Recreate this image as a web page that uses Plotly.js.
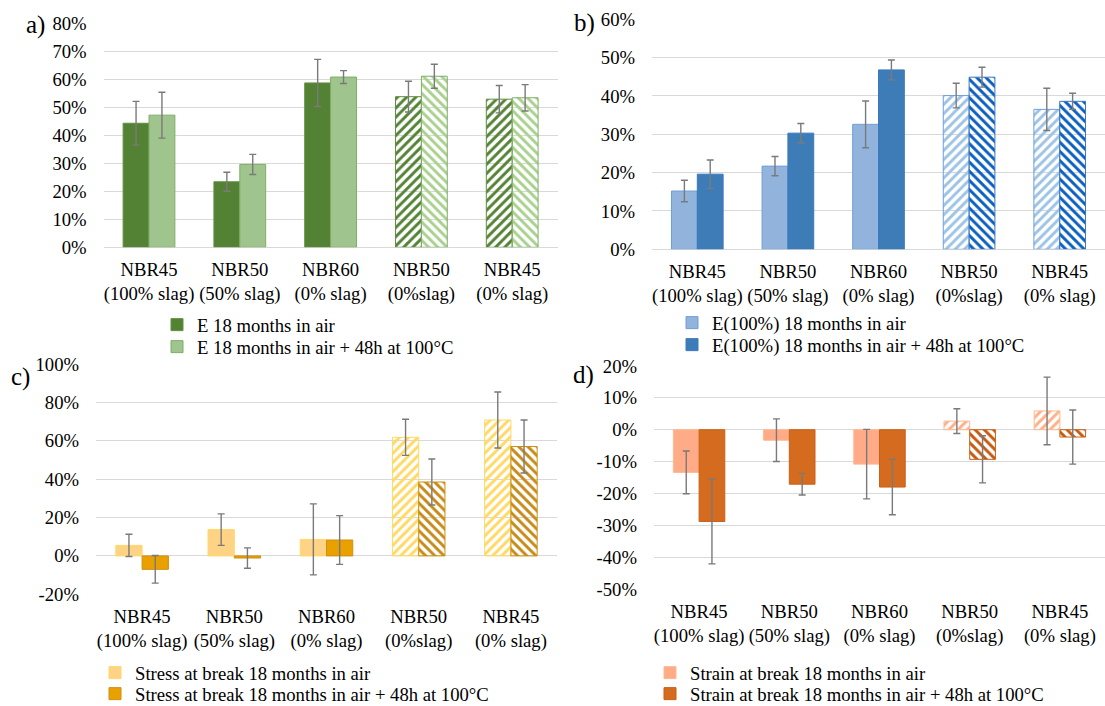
<!DOCTYPE html>
<html>
<head>
<meta charset="utf-8">
<script src="https://cdn.plot.ly/plotly-3.0.1.min.js"></script>
<style>html,body{margin:0;padding:0;background:#fff}#chart{width:1105px;height:706px}</style>
</head>
<body>
<div id="chart"></div>
<script>
// ---------- DATA ----------
const categories = ['NBR45<br>(100% slag)', 'NBR50<br>(50% slag)', 'NBR60<br>(0% slag)', 'NBR50<br>(0%slag)', 'NBR45<br>(0% slag)'];

// a) E
const seriesA1Name = 'E 18 months in air';
const seriesA2Name = 'E 18 months in air + 48h at 100°C';
const aAir = [44.3, 23.4, 58.7, 53.8, 52.9];
const aAirErr = [7.8, 3.4, 8.4, 5.5, 4.9];
const aHeat = [47.2, 29.6, 60.8, 61.1, 53.4];
const aHeatErr = [8.2, 3.6, 2.3, 4.3, 4.7];
const aTicks = [0, 10, 20, 30, 40, 50, 60, 70, 80];

// b) E(100%)
const seriesB1Name = 'E(100%) 18 months in air';
const seriesB2Name = 'E(100%) 18 months in air + 48h at 100°C';
const bAir = [15.2, 21.7, 32.6, 40.1, 36.5];
const bAirErr = [2.8, 2.5, 6.1, 3.2, 5.5];
const bHeat = [19.6, 30.3, 46.8, 44.9, 38.6];
const bHeatErr = [3.7, 2.5, 2.6, 2.6, 2.1];
const bTicks = [0, 10, 20, 30, 40, 50, 60];

// c) Stress at break
const seriesC1Name = 'Stress at break 18 months in air';
const seriesC2Name = 'Stress at break 18 months in air + 48h at 100°C';
const cAir = [5.5, 13.7, 8.6, 61.8, 70.8];
const cAirErr = [5.8, 8.2, 18.5, 9.4, 14.6];
const cHeat = [-7.0, -1.1, 8.3, 38.5, 57.0];
const cHeatErr = [7.2, 5.3, 12.7, 12.0, 13.8];
const cTicks = [-20, 0, 20, 40, 60, 80, 100];

// d) Strain at break
const seriesD1Name = 'Strain at break 18 months in air';
const seriesD2Name = 'Strain at break 18 months in air + 48h at 100°C';
const dAir = [-13.4, -3.3, -10.8, 2.7, 5.9];
const dAirErr = [6.7, 6.7, 10.9, 3.9, 10.6];
const dHeat = [-28.8, -17.1, -18.0, -9.3, -2.3];
const dHeatErr = [13.3, 3.4, 8.7, 7.4, 8.5];
const dTicks = [-50, -40, -30, -20, -10, 0, 10, 20];

// ---------- STYLE ----------
const FONT = 'Liberation Serif';
const FS = 18.67;
const hatchedCat = [false, false, false, true, true];
const W = 1105, H = 706;

function bar(name, x, y, err, xa, ya, leg, solid, stripe, border, hatch) {
  return {
    type: 'bar', name: name, x: x, y: y, xaxis: xa, yaxis: ya, legend: leg,
    marker: {
      color: hatchedCat.map(h => h ? stripe : solid),
      line: {color: border, width: 1},
      pattern: {
        shape: hatchedCat.map(h => h ? hatch : ''),
        fgcolor: stripe,
        bgcolor: 'white', size: 6.5, solidity: 0.45, fillmode: 'replace'
      }
    },
    error_y: {type: 'data', array: err, visible: true, color: '#7a7a7a', thickness: 1.4, width: 3.5},
    hoverinfo: 'skip'
  };
}

const data = [
  bar(seriesA1Name, categories, aAir, aAirErr, 'x', 'y', 'legend', '#548235', '#548235', '#5f8f3e', '/'),
  bar(seriesA2Name, categories, aHeat, aHeatErr, 'x', 'y', 'legend2', '#A0C48E', '#A9D18E', '#7fae66', '\\'),
  bar(seriesB1Name, categories, bAir, bAirErr, 'x2', 'y2', 'legend3', '#92B4DC', '#9DC3E6', '#6E9FD8', '/'),
  bar(seriesB2Name, categories, bHeat, bHeatErr, 'x2', 'y2', 'legend4', '#3E7CB8', '#0B5FBF', '#3A78C0', '\\'),
  bar(seriesC1Name, categories, cAir, cAirErr, 'x3', 'y3', 'legend5', '#FFD386', '#FFD966', '#FFD966', '/'),
  bar(seriesC2Name, categories, cHeat, cHeatErr, 'x3', 'y3', 'legend6', '#E9A001', '#C58A18', '#D08F12', '\\'),
  bar(seriesD1Name, categories, dAir, dAirErr, 'x4', 'y4', 'legend7', '#FFAB88', '#FFB08A', '#FFB890', '/'),
  bar(seriesD2Name, categories, dHeat, dHeatErr, 'x4', 'y4', 'legend8', '#D46B1E', '#C55A11', '#C96118', '\\')
];

function xax(l, r, anchor) {
  return {domain: [l / W, r / W], anchor: anchor, type: 'category', showgrid: false, zeroline: false,
    showline: false, ticks: '', ticklabelstandoff: 9, automargin: false,
    tickfont: {family: FONT, size: FS, color: '#000'}, fixedrange: true};
}
function yax(top, bottom, range, ticks, anchor) {
  return {domain: [1 - bottom / H, 1 - top / H], anchor: anchor, range: range, tickvals: ticks,
    ticktext: ticks.map(v => v + '%'), showgrid: true, gridcolor: '#d9d9d9', gridwidth: 1,
    zeroline: true, zerolinecolor: '#d9d9d9', zerolinewidth: 1, showline: false, ticks: '',
    ticklabelstandoff: 16, automargin: false, tickfont: {family: FONT, size: FS, color: '#000'}, fixedrange: true};
}
function leg(x, y) {
  return {x: x / W, y: 1 - y / H, xanchor: 'left', yanchor: 'middle', orientation: 'v',
    font: {family: FONT, size: FS, color: '#000'}, bgcolor: 'rgba(0,0,0,0)', borderwidth: 0,
    itemwidth: 30, traceorder: 'normal', tracegroupgap: 0};
}
function letter(t, x, y) {
  return {text: t, x: x / W, y: 1 - y / H, xref: 'paper', yref: 'paper', showarrow: false,
    xanchor: 'center', yanchor: 'middle', font: {family: FONT, size: 25, color: '#000'}};
}

const layout = {
  width: W, height: H, margin: {l: 0, r: 0, t: 0, b: 0, autoexpand: false},
  paper_bgcolor: '#fff', plot_bgcolor: 'rgba(0,0,0,0)',
  barmode: 'group', bargap: 0.43, bargroupgap: 0,
  showlegend: true,
  xaxis: xax(103.6, 557.6, 'y'),
  yaxis: yax(23.3, 247.3, [0, 80], aTicks, 'x'),
  xaxis2: xax(652, 1105, 'y2'),
  yaxis2: yax(19.3, 249.3, [0, 60], bTicks, 'x2'),
  xaxis3: xax(96, 557, 'y3'),
  yaxis3: yax(364, 594.3, [-20, 100], cTicks, 'x3'),
  xaxis4: xax(654, 1105, 'y4'),
  yaxis4: yax(366, 589, [-50, 20], dTicks, 'x4'),
  legend: leg(157, 325),
  legend2: leg(157, 347),
  legend3: leg(672, 323),
  legend4: leg(672, 345),
  legend5: leg(95, 673),
  legend6: leg(95, 694),
  legend7: leg(650, 673),
  legend8: leg(650, 694),
  annotations: [letter('a)', 35, 25), letter('b)', 584, 23), letter('c)', 20, 377), letter('d)', 583, 375)],
  font: {family: FONT, color: '#000'}
};

Plotly.newPlot('chart', data, layout, {displayModeBar: false, staticPlot: true});
</script>
</body>
</html>
